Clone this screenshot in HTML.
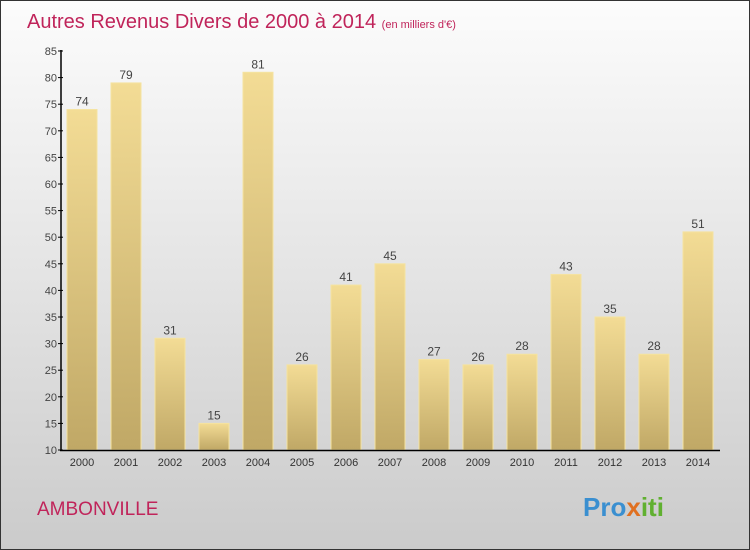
<!DOCTYPE html>
<html><head><meta charset="utf-8"><style>
body{margin:0}
#c{width:750px;height:550px;position:relative;box-sizing:border-box;border:1px solid #333;background:linear-gradient(#fcfcfc,#e4e4e4 50%,#cbcbcb);font-family:"Liberation Sans",sans-serif;overflow:hidden}
</style></head><body>
<div id="c">
<svg width="750" height="550" style="position:absolute;left:-1px;top:-1px">
<defs><linearGradient id="g" x1="0" y1="0" x2="0" y2="1"><stop offset="0" stop-color="#f3dc95"/><stop offset="1" stop-color="#c0a866"/></linearGradient></defs>
<text x="27" y="28" font-size="20" fill="#c0245a">Autres Revenus Divers de 2000 à 2014 <tspan font-size="11">(en milliers d'€)</tspan></text>
<text x="37" y="515" font-size="19" fill="#c0245a">AMBONVILLE</text>
<text x="583" y="516" font-size="26" font-weight="bold" fill="#3a8fd0">Pro<tspan fill="#e07020">x</tspan><tspan fill="#60b030">iti</tspan></text>
<g id="plot"></g>
</svg>
</div>
<script>
const years=["2000","2001","2002","2003","2004","2005","2006","2007","2008","2009","2010","2011","2012","2013","2014"];
const values=[74,79,31,15,81,26,41,45,27,26,28,43,35,28,51];
const ticks=[10,15,20,25,30,35,40,45,50,55,60,65,70,75,80,85];
const NS="http://www.w3.org/2000/svg";
const g=document.getElementById('plot');
const y=v=>450-(v-10)*399/75;
const x=i=>82+i*44;
function mk(t,a){const e=document.createElementNS(NS,t);for(const k in a)e.setAttribute(k,a[k]);g.appendChild(e);return e;}
values.forEach((v,i)=>{
 const r=mk('rect',{x:x(i)-15,y:y(v),width:30,height:450-y(v),fill:'url(#g)',stroke:'#f5e3a0','stroke-width':1});
 
 
 const t=mk('text',{x:x(i),y:y(v)-4,'text-anchor':'middle','font-size':12,fill:'#444'});t.textContent=v;
 
 
 const l=mk('text',{x:x(i),y:466,'text-anchor':'middle','font-size':11,fill:'#333'});l.textContent=years[i];
 
 
});
ticks.forEach(t=>{
 mk('line',{x1:58,x2:63,y1:y(t),y2:y(t),stroke:'#000'});
 const l=mk('text',{x:57,y:y(t)+4,'text-anchor':'end','font-size':11,fill:'#444'});l.textContent=t;
 
 
});
const ya=mk('line',{x1:61,x2:61,y1:50,y2:451,stroke:'#000','stroke-width':1.5});


const xa=mk('line',{x1:60,x2:720,y1:450.5,y2:450.5,stroke:'#000','stroke-width':1.5});


</script>
</body></html>
